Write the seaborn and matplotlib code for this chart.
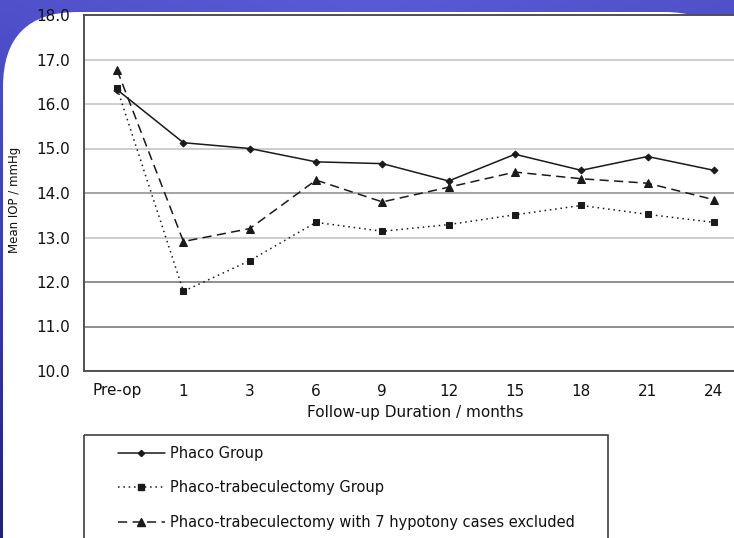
import numpy as np
import pandas as pd
import seaborn as sns
import matplotlib.pyplot as plt
from matplotlib.patches import FancyBboxPatch, Rectangle
from matplotlib.lines import Line2D

periods = ["Pre-op", "1", "3", "6", "9", "12", "15", "18", "21", "24"]
phaco = [16.32, 15.13, 15.00, 14.70, 14.66, 14.27, 14.87, 14.51, 14.82, 14.51]
phaco_trab = [16.35, 11.79, 12.48, 13.34, 13.14, 13.29, 13.51, 13.72, 13.52, 13.34]
trab_excluded = [16.76, 12.91, 13.20, 14.29, 13.80, 14.13, 14.47, 14.32, 14.22, 13.85]
group_names = ["Phaco Group",
               "Phaco-trabeculectomy Group",
               "Phaco-trabeculectomy with 7 hypotony cases excluded"]
y_ticks = [10, 11, 12, 13, 14, 15, 16, 17, 18]

W, H = 734, 538

sns.set_theme(style="white")
plt.rcParams['font.family'] = ['DejaVu Sans']

df = pd.DataFrame({
    "period": periods * 3,
    "iop": phaco + phaco_trab + trab_excluded,
    "group": np.repeat(group_names, len(periods)),
})

fig = plt.figure(figsize=(W / 100, H / 100), dpi=100)

# slide background: blue gradient with white rounded panel
bg = fig.add_axes([0, 0, 1, 1], zorder=-1)
bg.set_xlim(0, W)
bg.set_ylim(H, 0)
bg.axis("off")
gx = np.linspace(0, 1, 200)
gy = np.linspace(0, 1, 200)
GX, GY = np.meshgrid(gx, gy)
grad = 0.55 * GY + 0.25 * np.abs(GX - 0.5)
bg.imshow(grad, extent=[0, W, H, 0],
          cmap=sns.blend_palette(["#5a5ad6", "#3c3cb4", "#14145a"], as_cmap=True),
          aspect="auto", vmin=0, vmax=0.8)
bg.add_patch(FancyBboxPatch((3, 12), W + 2, H + 80,
                            boxstyle="round,pad=0,rounding_size=75",
                            facecolor="white", edgecolor="none"))
# legend frame
bg.add_patch(Rectangle((84, 435), 524, 120, facecolor="none",
                       edgecolor="#404040", linewidth=1.2))

ax = fig.add_axes([84 / W, 1 - 371 / H, 663 / W, 356 / H])
ax.set_facecolor("white")

styles = {
    group_names[0]: dict(ls="-", marker="D", ms=3.5),
    group_names[1]: dict(ls=(0, (1, 2.5)), marker="s", ms=5),
    group_names[2]: dict(ls=(0, (6, 3.5)), marker="^", ms=6),
}
for name in group_names:
    st = styles[name]
    sns.lineplot(data=df[df["group"] == name], x="period", y="iop", ax=ax,
                 color="#1a1a1a", linewidth=1.1, linestyle=st["ls"],
                 marker=st["marker"], markersize=st["ms"],
                 markeredgecolor="#1a1a1a", markerfacecolor="#1a1a1a",
                 label=name, legend=False, sort=False, zorder=3)

ax.set_xlim(-0.5, len(periods) - 0.5)
ax.set_ylim(10, 18)
ax.set_yticks(y_ticks)
ax.set_yticklabels([f"{v:.1f}" for v in y_ticks])
ax.set_xticks(range(len(periods)))
ax.set_xticklabels(periods)
ax.set_xticks(np.arange(0.5, len(periods) - 0.5, 1), minor=True)
ax.tick_params(axis="x", which="major", length=0, pad=9, labelsize=11, labelcolor="#111111")
ax.tick_params(axis="x", which="minor", length=5, width=1.2, color="#404040", direction="out")
ax.tick_params(axis="y", length=6, width=1.2, color="#404040", direction="out",
               pad=4, labelsize=11, labelcolor="#111111")

grid_colors = {11: "#707070", 12: "#707070", 13: "#c0c0c0", 14: "#8a8a8a",
               15: "#c0c0c0", 16: "#c0c0c0", 17: "#c0c0c0"}
for yv, c in grid_colors.items():
    ax.axhline(yv, color=c, linewidth=1.1, zorder=1)

for side in ["left", "bottom", "top"]:
    ax.spines[side].set_visible(True)
    ax.spines[side].set_color("#505050")
    ax.spines[side].set_linewidth(1.4)
ax.spines["right"].set_visible(False)

ax.set_xlabel("Follow-up Duration / months", fontsize=11, color="#111111", labelpad=5)
ax.set_ylabel("Mean IOP / mmHg", fontsize=8.5, color="#111111")
ax.yaxis.set_label_coords(-0.095, 0.48)

handles = [Line2D([], [], color="#1a1a1a", linewidth=1.1, linestyle=styles[n]["ls"],
                  marker=styles[n]["marker"], markersize=styles[n]["ms"] * 0.9)
           for n in group_names]
fig.legend(handles, group_names, loc="upper left",
           bbox_to_anchor=(118 / W, 1 - 446 / H), frameon=False,
           fontsize=10.5, handlelength=3.2, handletextpad=0.4,
           labelspacing=1.33, borderpad=0, borderaxespad=0, labelcolor="#111111")

fig.savefig("out.png", dpi=100)
